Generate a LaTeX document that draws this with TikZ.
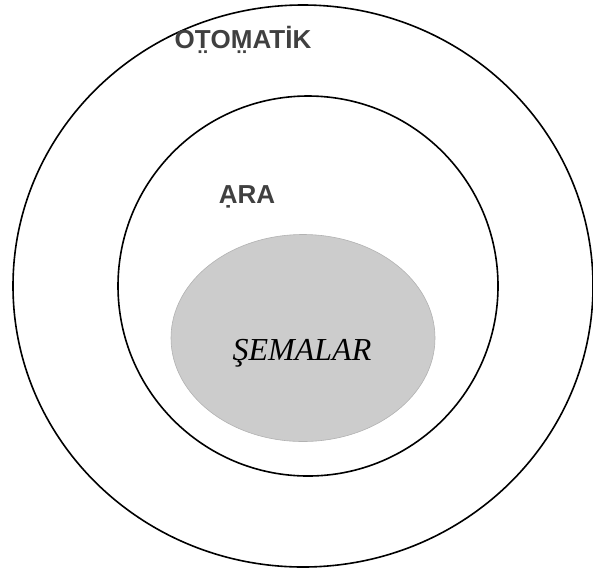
\documentclass[tikz,border=0pt]{standalone}
\usepackage{fontspec}
\setmainfont{Liberation Serif}
\newfontfamily\labelfont{Liberation Sans}
\usetikzlibrary{positioning,shapes}

\begin{document}
\begin{tikzpicture}[x=1pt,y=-1pt]
\tikzstyle{ring}=[ellipse, draw, line width=1.6pt, inner sep=0pt]
\tikzstyle{levelname}=[font=\labelfont\bfseries\fontsize{26}{26}\selectfont, text=black!75]

\useasboundingbox (0,0) rectangle (593,571);
\node[ring, minimum width=580pt, minimum height=562pt] (otomatik) at (303,286) {};
\node[ring, minimum width=380pt, minimum height=380pt] (ara) at (308,286) {};
\node[ellipse, draw=gray!60, fill=gray!40, line width=0.6pt, minimum width=264pt, minimum height=207pt] (semalar) at (303,338) {};
\node[levelname] (otomatiklbl) at (243,40) {OT̤OM̤ATİK};
\node[levelname] (aralbl) at (247,197) {ẠRA};
\node[font=\itshape\fontsize{32}{32}\selectfont] (semalarlbl) at (302,353) {ŞEMALAR};
\end{tikzpicture}
\end{document}
